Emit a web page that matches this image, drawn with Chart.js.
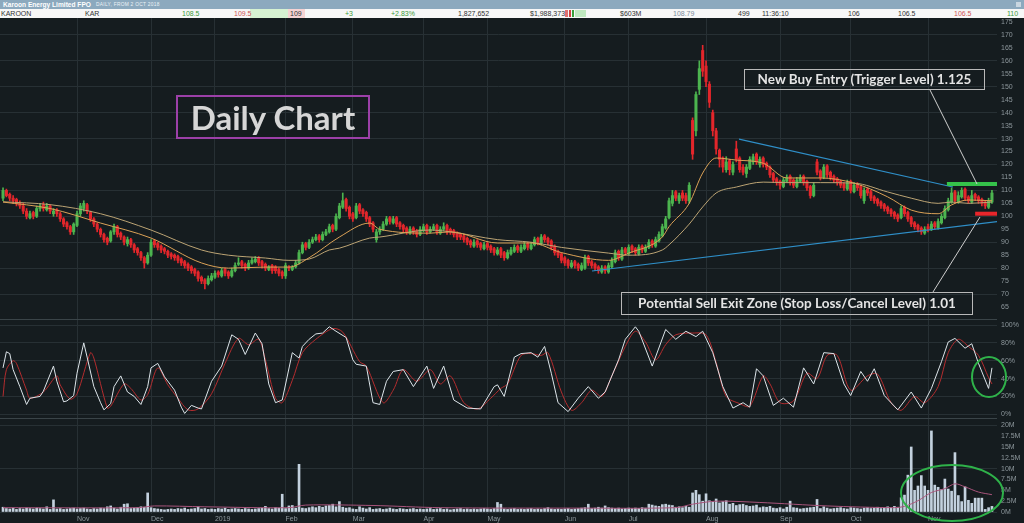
<!DOCTYPE html>
<html><head><meta charset="utf-8">
<script src="https://cdn.jsdelivr.net/npm/chart.js@4.4.1/dist/chart.umd.min.js"></script>
<style>
html,body{margin:0;padding:0;background:#151c1f;width:1024px;height:523px;overflow:hidden;font-family:"Liberation Sans",Arial,sans-serif;}
#hdr1{position:absolute;left:0;top:0;width:1024px;height:9px;background:#8ca9be;}
#hdr2{position:absolute;left:0;top:9px;width:1024px;height:9px;background:#f7f7f7;}
.t{position:absolute;top:0;font-size:7px;line-height:9px;color:#333;white-space:nowrap;}
.panel{position:absolute;left:0;width:1024px;}
#p1{top:18px;height:302px;}
#p2{top:320px;height:98px;}
#p3{top:418px;height:105px;}
.sep{position:absolute;left:0;width:997px;height:1px;background:#3a4448;}
.box{position:absolute;box-sizing:border-box;color:#e4e4e4;font-family:Lato,"Open Sans",sans-serif;font-weight:bold;white-space:nowrap;text-align:center;}
</style></head>
<body>
<div id="hdr1">
  <span style="position:absolute;left:3px;top:0;font-size:6.6px;line-height:9px;font-weight:bold;color:#fff;">Karoon Energy Limited FPO</span>
  <span style="position:absolute;left:96px;top:0;font-size:4.8px;line-height:9px;color:#eef3f7;letter-spacing:0.3px;">DAILY, FROM 2 OCT 2018</span>
  <span style="position:absolute;left:1016px;top:2px;width:5px;height:5px;background:#c9d6e0;"></span>
</div>
<div id="hdr2">
  <span style="position:absolute;left:250px;top:0;width:38px;height:9px;background:#d6f2d2;"></span>
  <span style="position:absolute;left:288px;top:0;width:17px;height:9px;background:#f6d3d3;"></span>
  <span class="t" style="left:1px">KAROON</span>
  <span class="t" style="left:85px">KAR</span>
  <span class="t" style="left:182px;color:#3c9a3c">108.5</span>
  <span class="t" style="left:234px;color:#d05555">109.5</span>
  <span class="t" style="left:290px">109</span>
  <span class="t" style="left:345px;color:#3c9a3c">+3</span>
  <span class="t" style="left:391px;color:#3c9a3c">+2.83%</span>
  <span class="t" style="left:458px">1,827,652</span>
  <span class="t" style="left:530px">$1,988,373</span>
  <span style="position:absolute;left:565px;top:1px;width:3px;height:7px;background:#e07070;"></span>
  <span style="position:absolute;left:569px;top:1px;width:2px;height:7px;background:#d04040;"></span>
  <span style="position:absolute;left:572px;top:1px;width:2px;height:7px;background:#3aa03a;"></span>
  <span style="position:absolute;left:575px;top:1px;width:11px;height:7px;background:#bfe8bf;"></span>
  <span class="t" style="left:620px">$603M</span>
  <span class="t" style="left:673px;color:#7c8c9c">108.79</span>
  <span class="t" style="left:738px">499</span>
  <span class="t" style="left:762px">11:36:10</span>
  <span class="t" style="left:848px">106</span>
  <span class="t" style="left:898px">106.5</span>
  <span class="t" style="left:954px;color:#d05555">106.5</span>
  <span class="t" style="left:1007px;color:#3c9a3c">110</span>
</div>

<div class="panel" id="p1"><canvas id="c1"></canvas></div>
<div class="panel" id="p2"><canvas id="c2"></canvas></div>
<div class="panel" id="p3"><canvas id="c3"></canvas></div>
<div class="sep" style="top:319px"></div>
<div class="sep" style="top:418px"></div>

<div class="box" style="left:176px;top:95px;width:194px;height:44px;border:2px solid #9c40a8;font-size:33px;line-height:40px;color:#d6d6d6;">Daily Chart</div>
<div class="box" style="left:744px;top:69px;width:241px;height:21px;border:1px solid #b9b9b9;font-size:13.5px;line-height:19px;">New Buy Entry (Trigger Level) 1.125</div>
<div class="box" style="left:621px;top:292px;width:352px;height:23px;border:1px solid #b9b9b9;font-size:13.5px;line-height:21px;">Potential Sell Exit Zone (Stop Loss/Cancel Level) 1.01</div>

<svg width="1024" height="523" style="position:absolute;left:0;top:0;pointer-events:none">
  <line x1="930" y1="90" x2="977" y2="184" stroke="#cfcfcf" stroke-width="1"/>
  <line x1="980" y1="217" x2="933" y2="292" stroke="#cfcfcf" stroke-width="1"/>
  <ellipse cx="989" cy="377" rx="17" ry="20" fill="none" stroke="#2fb24a" stroke-width="2"/>
  <ellipse cx="952" cy="493" rx="51" ry="28" fill="none" stroke="#2fb24a" stroke-width="2"/>
</svg>

<script>
// ---------- DATA ----------
const monthIdx = [22,44,63,84,104,125,144,167,186,209,231,252,275];
const monthLbl = ['Nov','Dec','2019','Feb','Mar','Apr','May','Jun','Jul','Aug','Sep','Oct','Nov'];
const priceTicks = [65,70,75,80,85,90,95,100,105,110,115,120,125,130,135,140,145,150,155,160,165,170,175];
const stochTicks = [0,20,40,60,80,100];
const volTicks = [0,2.5,5,7.5,10,12.5,15,17.5,20];

const opens = [
107,110,108.5,107,106.5,105,104,102,99.5,101.5,
100,103,104.5,102.5,104,101,102.5,101,99,97.5,
96,94,96.5,101,103,104.5,101.5,99,97,95,
93,91.5,90.5,94,96,93.5,92,89.5,91,89,
87.5,86,84,82,85,90.5,89.5,88.5,87.5,86.5,
85.5,85,84.5,83.5,82.5,81.5,80.5,79.5,78.5,76.5,
75.5,74,75.5,76.5,78.5,77,79.5,78.5,77,79,
81.5,82.5,81.5,80,82,82.5,84,82.5,81.5,79.5,
81,80.5,79.5,78.5,77,80.5,79.5,80.5,82,86,
89.5,88,90,91,92.5,91,93,94,96.5,95,
99.5,103.5,106.5,103.5,101,99.5,104.5,102.5,101.5,99.5,
97.5,91,94,95,97,99.5,97.5,99.5,97.5,96.5,
95.5,93.5,95.5,94.5,93,94.5,96.5,94,95,96.5,
93.5,95,96.5,95,94.5,93.5,93,92.5,91.5,90.5,
88.5,90.5,89.5,87.5,89.5,88.5,87.5,85.5,87.5,86,
84,85.5,86.5,88.5,86.5,87.5,89.5,87.5,89,91.5,
89.5,92.5,91.5,90.5,88.5,86.5,85.5,84,83,80.5,
82.5,81.5,79.5,80,84.5,82.5,81.5,80.5,78.5,80.5,
78.5,80.5,82.5,86.5,83.5,87.5,85.5,88.5,87.5,85.5,
88.5,86.5,88,90.5,88.5,90.5,92.5,95.5,99.5,105,
109.5,106,109,108,106,137,133,149,164,158,
151,140,133,125.5,122.5,118,121.5,117,126,122.5,
119,116.5,118.5,121,124,120,122.5,120.5,119,116.5,
114.5,113.5,111.5,113.5,115.5,114,111.5,113.5,115.5,113.5,
111.5,108,121,117.5,115,119.5,117,115.5,114.5,113.5,
112.5,110.5,113.5,109.5,112.5,111.5,106,110.5,109.5,107.5,
106.5,105.5,104.5,103.5,102.5,101.5,100.5,99.5,103.5,101.5,
99.5,97.5,96.5,95.5,93.5,96,95,97.5,95.5,97.5,
99.5,102.5,105.5,109.5,105.5,107.5,110.5,107.5,105.5,108.5,
107.5,106.5,105.5,103.5,105.5];

const closes = [
110,108,107,106,105,104,102,100,101,100,
103,104,103,104,102,102,101,99,97,96,
94,97,101,104,105,102,99,97,95,93,
91,90,94,96,93,92,90,91,89,87,
86,84,82,85,90,89,88,87,86.5,85,
84.5,84,83,82,81,80,79,78,76,75,
74,76,77,78,77.5,79,78,77,79,81,
82,81,80,82,83,83.5,82,81,80,80.5,
79,79,78,77,81,80,80.5,82,86,89,
88,90,91,92,91,93,94,96,95,100,
104,106,103,100,99,104,102,101,99,97,
95,94,95,97,99,98,99,97,96,95,
94,95,94,93,95,96,94,95,96,94,
95,96,94,94,93,92,92,91,90,89,
90,89,88,89,88,87,86,87,85,84,
86,87,88,87,88,89,88,89,91,90,
92,91,90,88,86,85,83,82,81,82,
81,80,81,84,82,81,80,79,80,79,
81,83,86,84,87,86,88,87,86,88,
87,88,90,89,91,93,96,99,106,108,
107,108,107,106,112,124,147,157,156,152,
144,133,126,122,119,121,118,120,122,118,
117,119,122,123,121,122,120,119,116,114,
113,112,114,115,113,112,114,115,113,111,
108,112,117,115,119,116,115,114,113,112,
111,113,110,112,111,108,110,109,107,106,
105,104,103,102,101,100,99,103,101,99,
97,96,95,94,95,95,97,96,98,100,
103,106,109,106,108,110,107,106,108,107,
106,105,104,106,109];

const highs = [
111,110.5,109,108,107,106,105,103,102,102,
104,105,105.5,105,104.5,103,103,101.5,99.5,98,
96.5,97.5,102,105,106,105,102,99.5,97.5,95.5,
93.5,92,94.5,97,96.5,94,92.5,92,91.5,89.5,
88,86.5,84.5,86,91,91,90,89,88,87,
86,85.5,85,84,83,82,81,80,79,77,
76,77,78,79,79,80,80,79,80,82,
84,83,82,83,84,84.5,84.5,83,82,81,
81.5,81,80,79,82,81,81,83,87,90,
90,91,92,93,93,94,95,97,97,101,
105,109,107,104,101.5,105,105,103,102,100,
98,95,96,98,100,100,100,100,98,97,
96,96,96,95,96,97,97,96,97,97,
96,97.5,97,95.5,95,94,93.5,93,92,91,
91,91,90,90,90,89,88,88,88,86.5,
87,88,89,89,89,90,90,90,92,92,
93,93,92,91,89,87,86,84.5,83.5,83,
83,82,82,85,85,83,82,81,81,81,
82,84,87,87,88,88,89,89,88,89,
89,89,91,91,92,94,97,100,107,110,
110,109,110,109,113,138,148,160,166,160,
152,141,134,126,123,123,122,121,129,123,
120,120,123,124,124.5,123,123,121,119.5,117,
115,114,115,116,116,114.5,115,116,116,114,
112,113,122,118,120,120,117.5,116,115,114,
113,114,114,113,113,112,111,111,110,108,
107,106,105,104,103,102,101,104,104,102,
100,98,97,96,96,97,98,98,99,101,
104,107,111,110,109.5,111,111,108,110,109,
108,107,106,107,110];

const lows = [
106,107.5,106,105,104,103,101,99,99,99,
99.5,102,102,102,101,100,100,98,96,95,
93,93,96,100,102,101,98,96,94,92,
90,89,90,93,92,91,89,88.5,88,86,
85,83,80,81.5,84.5,88,87,86,85.5,84,
83.5,83,82,81,80,79,78,77,75,74,
72,73.5,75,76,76.5,76.5,77,76,76.5,78.5,
81,80,79,79.5,81.5,82,81,80,79,79,
78,78,77,76,76,79,79,80,81.5,85.5,
87,87.5,89.5,90.5,90,90.5,92.5,93.5,94,94.5,
99,103,102,99,98,99,101,100,98,96,
94,90,93,94.5,96.5,97,97,96,95,94,
93,93,93,92,92.5,94,93,93.5,94.5,93,
93,94.5,93,93,92,91,91,90,89,88,
88,88,87,87,87,86,85,85,84,83,
83.5,85,86,86,86,87,87,87,88.5,89,
89,90,89,87,85,84,82,81,80,80,
80,79,79,79.5,81,80,79,78,78,78,
78,80,82,83,83,85,85,86,85,85,
86,86,87.5,88,88,90,92,95,99,104,
106,105,106,105,105,122,131,147,154,150,
142,131,124,119,117,117,116,116,121,117,
116,115,118,120,120,119,119,118,115,113,
112,110.5,111,113,112,111,111,113,112,110,
107,107.5,116,114,114.5,115,114,113,112,111,
110,110,109,109,110,107,105,108,106,105,
104,103,102,101,100,99,98,99,100,98,
96,95,94,93,93,94,94.5,95,95,97,
99,102,105,105,105,107,106,105,105,106,
105,104,103,103,105];

// volume in millions
const volumes = [
1.1,0.8,0.7,0.9,0.6,0.8,0.7,0.9,0.8,0.7,
0.9,0.8,0.7,1.2,0.6,2.8,0.7,0.8,0.6,0.7,
0.8,0.9,0.7,0.8,0.9,0.7,0.6,0.8,0.7,0.9,
0.8,1.2,1.4,0.9,0.7,1.1,1.8,1.9,0.8,0.9,
1.0,1.2,1.1,4.4,1.0,0.8,0.7,0.6,0.5,0.6,
0.7,0.6,0.8,0.7,0.9,0.6,0.7,0.8,1.2,0.7,
0.8,0.6,0.7,0.6,0.8,0.7,0.9,0.6,0.7,0.8,
0.7,0.6,0.8,0.7,0.6,0.7,0.8,0.9,1.3,0.8,
0.7,1.0,0.9,4.1,0.8,1.4,1.5,0.9,11.0,0.9,
0.8,1.0,1.2,1.0,1.3,1.1,1.4,1.5,1.8,1.2,
2.4,1.1,0.9,1.0,0.7,0.6,1.2,0.9,0.7,1.0,
0.6,0.7,0.8,0.6,0.7,0.9,0.7,0.6,0.8,0.7,
0.6,0.7,0.8,0.6,0.7,0.6,0.7,0.8,0.6,0.7,
0.8,0.6,0.7,0.5,0.6,0.7,0.8,0.6,0.7,0.6,
0.7,0.6,0.7,0.8,0.7,0.6,0.8,2.2,1.8,0.7,
0.6,0.7,0.8,0.6,0.7,0.6,0.7,0.8,0.6,0.7,
0.6,0.8,1.0,0.7,0.6,0.7,0.6,0.7,0.8,0.6,
0.7,0.8,0.9,1.0,1.8,0.8,0.9,1.1,0.9,1.4,
1.0,0.9,0.8,0.9,0.7,0.8,0.9,0.8,0.9,0.8,
1.0,0.9,1.8,1.6,1.4,1.3,1.7,1.8,1.6,1.5,
1.1,1.2,1.0,1.3,1.1,4.4,5.0,4.0,2.5,4.2,
2.6,2.3,3.0,2.1,2.4,2.6,1.8,2.0,1.5,1.7,
1.8,1.5,1.3,1.4,1.6,1.0,1.2,1.1,1.3,0.9,
0.8,1.0,0.7,1.1,2.5,1.0,0.9,0.7,0.8,0.9,
1.0,1.1,2.9,0.8,1.2,0.9,0.7,0.8,0.9,1.0,
0.8,0.7,1.0,0.9,0.8,0.7,0.9,1.0,0.8,0.9,
1.1,0.8,0.9,1.2,1.0,1.3,1.1,3.3,3.9,8.5,
15.0,5.0,6.0,8.4,6.0,5.0,18.7,6.2,5.7,5.2,
7.6,5.3,4.8,13.7,3.8,2.4,5.8,2.7,2.0,3.2,
3.2,3.2,0.6,1.0,1.3];

// moving averages (sampled at day index)
const fastMaDays = [0,14,29,44,59,67,78,85,91,100,109,112,127,133,147,157,166,180,186,196,198,204,208,212,218,226,233,243,253,263,270,278,282,287,294];
const fastMaVals = [105.5,103,97.4,91.6,82,80,80.4,80.4,84,92,97.4,95,93.5,94,89.7,89.7,86,83,85.8,92,96,105,116.7,122.5,121.7,120.5,114.8,114.8,112.8,107.5,102.4,101,104.4,106.3,106];
const slowMaDays = [0,14,29,44,59,67,78,85,91,97,100,109,112,127,133,147,157,166,180,186,196,198,204,208,212,218,226,233,243,253,263,270,278,282,287,294];
const slowMaVals = [105.6,104.5,101,94.7,87,85,83.9,83,83.5,87,87.7,91.6,92,94.7,94,91,90,88,85.8,85,87,89,97,103.6,109,111.3,113.2,113,113,112.8,109.4,107,105,105.5,105,105.5];

// trend lines and levels (price units)
const trendUpper = [[218.8,129.8],[282.4,111.3]];
const trendLower = [[175.1,78.9],[297.3,98.2]];
const buyLevel = 112.5, sellLevel = 101;

// stochastic %K / %D
const kDays = [0,1,2,3,5,7,8,11,12,15,16,18,19,21,22,24,25,27,29,30,32,33,35,37,39,41,43,44,46,48,51,53,54,56,58,59,62,65,68,70,72,75,77,79,81,83,86,88,89,91,93,95,97,99,102,104,105,108,110,112,114,116,119,122,126,128,131,134,138,142,146,147,149,152,154,157,159,161,163,165,168,171,174,177,179,183,185,188,189,193,197,200,203,206,208,211,214,217,220,222,224,226,229,232,235,238,241,244,247,250,252,255,257,259,262,266,270,273,276,279,281,283,286,288,290,293,294];
const kVals = [52,70,68,50,31,11,18,20,26,54,37,14,15,21,46,80,64,31,13,5,12,31,43,25,20,11,31,52,57,42,27,8,1,10,7,6,37,54,89,84,67,91,79,34,13,16,69,63,76,84,90,91,98,93,86,61,56,54,13,11,37,48,50,31,54,29,54,16,7,6,31,33,20,64,68,69,64,76,46,13,3,18,31,18,25,61,84,98,93,54,95,84,93,87,93,69,31,7,13,8,51,43,10,18,8,52,34,69,68,34,21,48,37,51,21,5,25,7,29,59,81,85,74,79,57,29,52];
const dDays = [0,1,3,4,7,8,12,16,17,20,22,26,27,31,32,36,38,41,43,46,49,52,55,58,62,66,70,73,76,78,81,83,86,89,93,98,101,106,108,113,116,119,123,127,130,133,137,141,145,148,150,154,157,160,162,166,169,172,175,178,181,185,188,191,194,197,200,205,209,212,215,219,222,226,228,231,235,239,242,245,248,252,257,260,264,267,271,274,278,281,284,287,290,293,294];
const dVals = [20,50,60,57,27,18,25,43,33,17,23,69,63,7,9,34,29,16,22,52,33,18,5,6,23,57,85,78,84,61,18,13,38,69,84,96,92,59,54,13,27,50,37,50,34,43,13,6,18,29,34,66,68,66,69,25,4.5,13,27,20,43,76,93,81,61,78,89,91,89,58,20,12,9,43,34,13,15,46,40,66,66,27,43,45,13,4.5,20,13,31,69,84,76,66,41,34];

// volume moving average
const vmaDays = [0,40,45,60,85,90,110,130,170,200,205,212,225,245,265,268,272,276,280,283,286,290,294];
const vmaVals = [1.0,1.0,1.4,1.2,1.0,1.6,1.5,1.0,0.9,1.0,1.8,2.5,2.2,1.4,1.0,1.3,2.6,4.5,5.4,6.5,5.8,4.6,4.0];

// ---------- CHARTS ----------
Chart.defaults.font.family = "'Liberation Sans', Arial, sans-serif";
Chart.defaults.color = '#8d979c';
const GRID = '#273034';
const UP = '#4cb44f', DOWN = '#e3262b';
const days = closes.map((_, i) => i);
const pts = (xs, ys) => xs.map((x, i) => ({x: x, y: ys[i]}));
const pairs = arr => arr.map(p => ({x: p[0], y: p[1]}));
const candleColor = ctx => (closes[ctx.dataIndex] >= opens[ctx.dataIndex] ? UP : DOWN);

function xScale(showLabels) {
  return {
    type: 'linear', min: -0.9, max: 295.5, offset: false,
    grid: {color: GRID, drawTicks: false, offset: false},
    border: {display: false},
    afterBuildTicks: s => { s.ticks = monthIdx.map(v => ({value: v})); },
    ticks: {display: showLabels, autoSkip: false, maxRotation: 0, minRotation: 0, align: 'start', padding: 1,
            font: {size: 7}, color: '#8d979c', callback: (v, i) => monthLbl[i]},
    afterFit: s => { s.height = showLabels ? 9 : 0; s.paddingLeft = 0; s.paddingRight = 0; }
  };
}
function yScale(min, max, tickVals, fmt, gridFn) {
  return {
    position: 'right', min: min, max: max, beginAtZero: false,
    afterBuildTicks: s => { s.ticks = tickVals.map(v => ({value: v})); },
    grid: {color: gridFn, drawTicks: false},
    border: {display: false},
    ticks: {font: {size: 7}, color: '#8d979c', padding: 4, autoSkip: false, callback: fmt},
    afterFit: s => { s.width = 27; s.paddingTop = 0; s.paddingBottom = 0; }
  };
}
const baseOpts = {
  responsive: true, maintainAspectRatio: false, animation: false, events: [],
  layout: {padding: 0},
  plugins: {legend: {display: false}, tooltip: {enabled: false}}
};

// Price panel
new Chart(document.getElementById('c1'), {
  type: 'bar',
  data: {datasets: [
    {type: 'line', data: [{x: 280.6, y: buyLevel}, {x: 297, y: buyLevel}], borderColor: '#35c24a', borderWidth: 4, pointRadius: 0, order: 0},
    {type: 'line', data: [{x: 289, y: sellLevel}, {x: 297, y: sellLevel}], borderColor: '#e8262b', borderWidth: 4, pointRadius: 0, order: 0},
    {type: 'line', data: pairs(trendUpper), borderColor: '#2f8fc8', borderWidth: 1.2, pointRadius: 0, order: 1},
    {type: 'line', data: pairs(trendLower), borderColor: '#2f8fc8', borderWidth: 1.2, pointRadius: 0, order: 1},
    {type: 'line', data: pts(fastMaDays, fastMaVals), borderColor: '#dba257', borderWidth: 1, pointRadius: 0, cubicInterpolationMode: 'monotone', order: 2},
    {type: 'line', data: pts(slowMaDays, slowMaVals), borderColor: '#bca474', borderWidth: 1, pointRadius: 0, cubicInterpolationMode: 'monotone', order: 2},
    {type: 'bar', data: days.map(i => ({x: i, y: [lows[i], highs[i]]})), backgroundColor: candleColor, barThickness: 1, grouped: false, order: 4},
    {type: 'bar', data: days.map(i => ({x: i, y: [opens[i], closes[i]]})), backgroundColor: candleColor, barThickness: 2.4, minBarLength: 1, grouped: false, order: 3}
  ]},
  options: Object.assign({}, baseOpts, {
    scales: {
      x: xScale(false),
      y: yScale(59.98, 176.54, priceTicks, v => String(v), c => (c.tick && c.tick.value % 10 === 0 ? GRID : 'rgba(0,0,0,0)'))
    }
  })
});

// Stochastic panel
new Chart(document.getElementById('c2'), {
  type: 'line',
  data: {datasets: [
    {data: pts(kDays, kVals), borderColor: '#dde5ea', borderWidth: 1, pointRadius: 0, tension: 0, order: 0},
    {data: pts(dDays, dVals), borderColor: '#b52d2f', borderWidth: 1, pointRadius: 0, tension: 0.3, order: 1}
  ]},
  options: Object.assign({}, baseOpts, {
    scales: {
      x: xScale(false),
      y: yScale(-4.14, 105.6, stochTicks, v => v + '%', GRID)
    }
  })
});

// Volume panel
new Chart(document.getElementById('c3'), {
  type: 'bar',
  data: {datasets: [
    {type: 'line', data: pts(vmaDays, vmaVals), borderColor: '#a9557c', borderWidth: 1, pointRadius: 0, tension: 0.3, order: 0},
    {type: 'bar', data: days.map(i => ({x: i, y: volumes[i]})), backgroundColor: '#c3d1de', barThickness: 2, grouped: false, order: 1}
  ]},
  options: Object.assign({}, baseOpts, {
    scales: {
      x: xScale(true),
      y: yScale(-0.461, 21.684, volTicks, v => v + 'M', c => (c.tick && c.tick.value % 10 === 0 ? GRID : 'rgba(0,0,0,0)'))
    }
  })
});
</script>
</body></html>
